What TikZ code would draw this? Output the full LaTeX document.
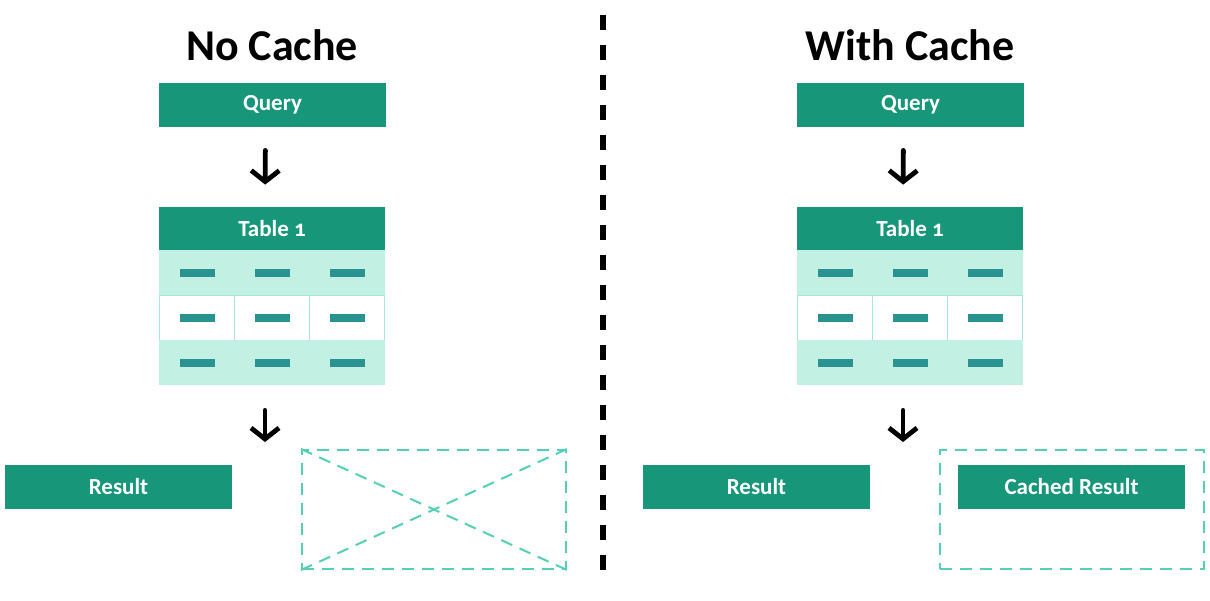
\documentclass[tikz,border=0pt]{standalone}
\usepackage{fontspec}
\setmainfont{Carlito}
\usetikzlibrary{arrows.meta,positioning,calc}

\definecolor{boxgreen}{HTML}{17967A}
\definecolor{mint}{HTML}{C2F0E2}
\definecolor{mintline}{HTML}{A6E6D2}
\definecolor{cellbar}{HTML}{2A9290}
\definecolor{dashmint}{HTML}{55D0B8}

\begin{document}
\begin{tikzpicture}[x=0.5pt,y=-0.5pt]
	\tikzstyle{every node}=[inner sep=0pt]
	\tikzstyle{greenbox}=[fill=boxgreen, text=white, minimum width=113.5pt, minimum height=22pt, font=\fontsize{11.5}{13}\selectfont\bfseries]
	\tikzstyle{title}=[font=\fontsize{22}{24}\selectfont\bfseries]
	\tikzstyle{mintrow}=[fill=mint, minimum width=37.6pt, minimum height=22.5pt]
	\tikzstyle{whiterow}=[draw=mintline, fill=white, line width=0.4pt, minimum width=37.5pt, minimum height=22.5pt]
	\tikzstyle{bar}=[fill=cellbar, minimum width=17.5pt, minimum height=4pt]
	\tikzstyle{flow}=[draw, -{Straight Barb[length=5.5pt,width=14pt]}, line width=2.4pt, line cap=round]
	\tikzstyle{ghost}=[draw=dashmint, line width=1pt, dash pattern=on 6pt off 4pt]

	\useasboundingbox (0,0) rectangle (1210,600);

	% both halves, shifted by 638px
	\foreach \side/\dx/\name in {L/0/No Cache, R/638/With Cache} {
		\begin{scope}[xshift=\dx*0.5pt]
			\node[title] (title\side) at (272,45) {\name};
			\node[greenbox] (query\side) at (272.5,105) {Query};
			\node[greenbox, minimum width=113pt, minimum height=21.5pt] (head\side) at (272,228.5) {Table {\addfontfeatures{Numbers=OldStyle}1}};
			\foreach \r/\y/\f in {1/272.5/mintrow, 2/317.5/whiterow, 3/362.5/mintrow}
				\foreach \c/\x in {1/197, 2/272, 3/347} {
					\node[\f] (cell\side\r\c) at (\x,\y) {};
					\node[bar] at (\x,\y) {};
				}
			\node[greenbox] (result\side) at (118.5,487) {Result};
			\node[ghost, minimum width=132pt, minimum height=59.5pt] (slot\side) at (434,509.5) {};
			\coordinate (drop\side) at (265,465);
			\draw[flow, shorten <=11.5pt, shorten >=11pt] ([xshift=-3.5pt]query\side.south) -- ([xshift=-3.5pt]head\side.north);
			\draw[flow, shorten <=12.5pt, shorten >=11.5pt] (cell\side31.south -| drop\side) -- (drop\side);
		\end{scope}
	}

	% no cache: empty slot
	\draw[ghost] (slotL.north west) -- (slotL.south east);
	\draw[ghost] (slotL.south west) -- (slotL.north east);

	% with cache: stored result
	\node[greenbox] (cached) at (1071.5,487) {Cached Result};

	% divider
	\draw[line width=3pt, dash pattern=on 7.5pt off 7.5pt] (603,15) -- (603,585);
\end{tikzpicture}
\end{document}
